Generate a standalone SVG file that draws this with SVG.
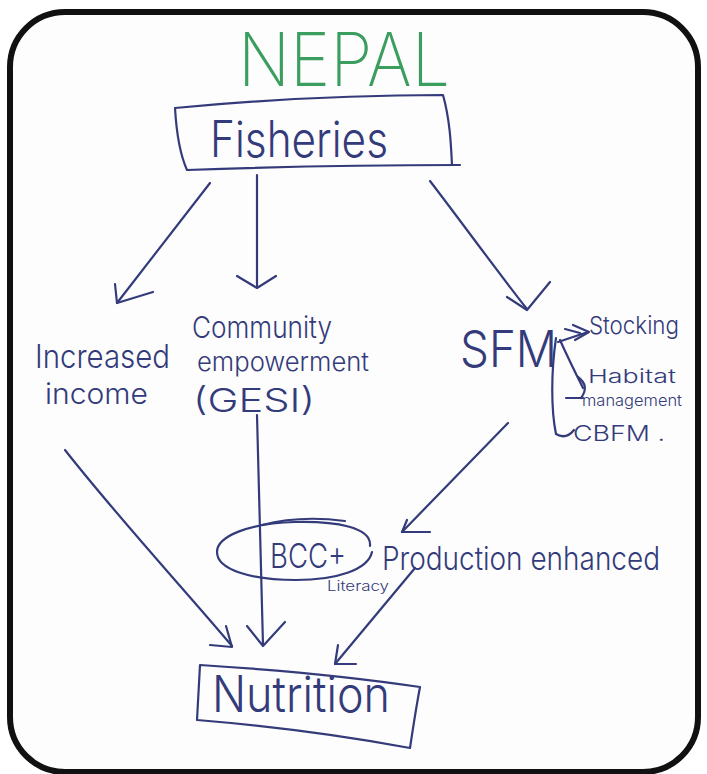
<svg xmlns="http://www.w3.org/2000/svg" width="707" height="774" viewBox="0 0 707 774">
  <style>
    .ink { fill: #343b7a; font-family: Inter, Lato, "Open Sans", "Liberation Sans", sans-serif; font-weight: 300; }
    .pen { fill: none; stroke: #343b7a; stroke-width: 2.2; stroke-linecap: round; stroke-linejoin: round; }
    .head { fill: none; stroke: #343b7a; stroke-width: 2.2; stroke-linecap: round; stroke-linejoin: round; }
    .title { fill: #3b9e5e; font-family: Inter, Lato, "Open Sans", "Liberation Sans", sans-serif; font-weight: 200; }
  </style>

  <!-- page and frame -->
  <rect x="0" y="0" width="707" height="774" fill="#ffffff"/>
  <rect x="10" y="12" width="688" height="760" rx="55" ry="55" fill="#fdfdfd" stroke="#111111" stroke-width="6"/>

  <g id="title">
    <text class="title" x="238" y="86" font-size="74" textLength="212" lengthAdjust="spacingAndGlyphs">NEPAL</text>
  </g>

  <g id="node-fisheries">
    <path class="pen" d="M175,108 C260,100 360,95 443,95 C450,120 451,145 452,165 M460,165 C370,165 270,167 187,170 C178,150 176,125 175,108"/>
    <text class="ink" x="210" y="157" font-size="50" textLength="178" lengthAdjust="spacingAndGlyphs">Fisheries</text>
  </g>

  <g id="node-income">
    <text class="ink" x="35" y="368" font-size="33" textLength="135" lengthAdjust="spacingAndGlyphs">Increased</text>
    <text class="ink" x="45" y="404" font-size="29" textLength="103" lengthAdjust="spacingAndGlyphs">income</text>
  </g>

  <g id="node-community">
    <text class="ink" x="192" y="338" font-size="30" textLength="140" lengthAdjust="spacingAndGlyphs">Community</text>
    <text class="ink" x="197" y="371" font-size="26" textLength="172" lengthAdjust="spacingAndGlyphs">empowerment</text>
    <text class="ink" x="193" y="412" font-size="33" textLength="122" lengthAdjust="spacingAndGlyphs">(GESI)</text>
  </g>

  <g id="node-sfm">
    <text class="ink" x="460" y="367" font-size="50" textLength="97" lengthAdjust="spacingAndGlyphs">SFM</text>
  </g>

  <g id="node-stocking">
    <text class="ink" x="589" y="334" font-size="24" textLength="90" lengthAdjust="spacingAndGlyphs">Stocking</text>
  </g>

  <g id="node-habitat">
    <text class="ink" x="588" y="383" font-size="19" textLength="88" lengthAdjust="spacingAndGlyphs">Habitat</text>
    <text class="ink" x="582" y="406" font-size="16" textLength="100" lengthAdjust="spacingAndGlyphs">management</text>
  </g>

  <g id="node-cbfm">
    <text class="ink" x="573" y="441" font-size="22" textLength="92" lengthAdjust="spacingAndGlyphs">CBFM .</text>
  </g>

  <g id="node-bcc">
    <path class="pen" d="M370,546 C372,527 335,521 295,522 C250,523 217,536 217,552 C217,570 252,580 296,580 C336,580 368,570 372,552"/>
    <path class="pen" d="M262,525 Q300,515 345,521"/>
    <text class="ink" x="270" y="568" font-size="34" textLength="76" lengthAdjust="spacingAndGlyphs">BCC+</text>
    <text class="ink" x="327" y="591" font-size="14" textLength="62" lengthAdjust="spacingAndGlyphs">Literacy</text>
  </g>

  <g id="node-production">
    <text class="ink" x="382" y="570" font-size="32" textLength="278" lengthAdjust="spacingAndGlyphs">Production enhanced</text>
  </g>

  <g id="node-nutrition">
    <path class="pen" d="M200,665 C280,670 360,678 420,687 C416,708 413,728 410,748 C340,735 270,726 197,720 C198,700 199,682 200,665"/>
    <text class="ink" x="212" y="712" font-size="50" textLength="178" lengthAdjust="spacingAndGlyphs">Nutrition</text>
  </g>

  <g id="connectors">
    <!-- Fisheries to the three outcomes -->
    <path class="pen" d="M210,183 L117,303"/>
    <path class="head" d="M115,284 L117,303 L153,292"/>
    <path class="pen" d="M257,175 L257,287"/>
    <path class="head" d="M237,276 L257,288 L276,276"/>
    <path class="pen" d="M430,181 C460,220 500,275 527,309"/>
    <path class="head" d="M507,297 L527,310 L550,282"/>

    <!-- SFM sub-activities -->
    <path class="pen" d="M558,342 L588,332"/>
    <path class="head" d="M573,325 L589,332 L575,340"/>
    <path class="head" d="M565,329 L580,333"/>
    <path class="pen" d="M560,340 C568,358 576,374 583,388"/>
    <path class="head" d="M578,377 Q590,386 581,398"/>
    <path class="pen" d="M566,398 L583,398"/>
    <path class="pen" d="M556,338 C551,372 551,410 556,434"/>
    <path class="head" d="M556,434 Q566,440 574,430"/>

    <!-- towards Nutrition -->
    <path class="pen" d="M65,450 C120,520 185,590 232,646"/>
    <path class="head" d="M210,645 L232,647 L226,626"/>
    <path class="pen" d="M257,415 L263,645"/>
    <path class="head" d="M247,626 L263,646 L285,622"/>
    <path class="pen" d="M508,423 L402,532"/>
    <path class="head" d="M407,520 L402,532 L430,532"/>
    <path class="pen" d="M415,568 L335,664"/>
    <path class="head" d="M338,645 L335,664 L356,664"/>
  </g>
</svg>
